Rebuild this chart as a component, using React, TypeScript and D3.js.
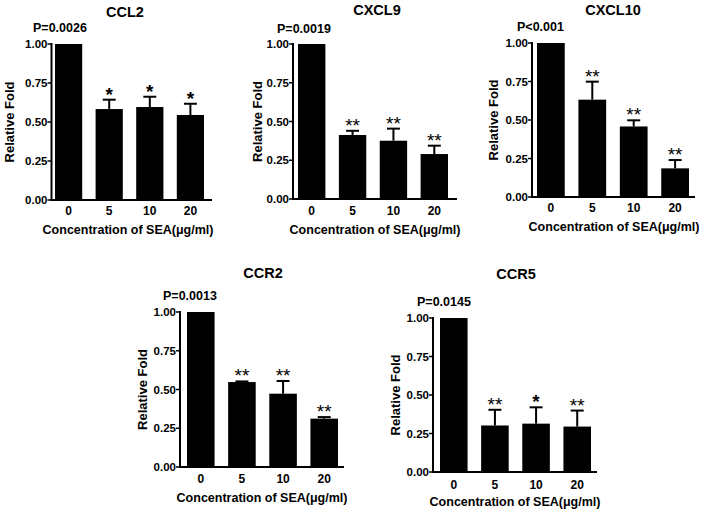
import React from "react";
import * as d3 from "d3";

// ---- data ----
const concentrations = ["0", "5", "10", "20"];
const yTicks = [0, 0.25, 0.5, 0.75, 1.0];
const genes = ["CCL2", "CXCL9", "CXCL10", "CCR2", "CCR5"];
const pValues = ["P=0.0026", "P=0.0019", "P<0.001", "P=0.0013", "P=0.0145"];

const ccl2Mean = [1.0, 0.583, 0.596, 0.545];
const ccl2Err = [0, 0.06, 0.066, 0.072];
const ccl2Sig = ["", "*", "*", "*"];

const cxcl9Mean = [1.0, 0.413, 0.376, 0.29];
const cxcl9Err = [0, 0.027, 0.078, 0.054];
const cxcl9Sig = ["", "**", "**", "**"];

const cxcl10Mean = [1.0, 0.632, 0.458, 0.186];
const cxcl10Err = [0, 0.117, 0.04, 0.054];
const cxcl10Sig = ["", "**", "**", "**"];

const ccr2Mean = [1.0, 0.548, 0.473, 0.312];
const ccr2Err = [0, 0.004, 0.082, 0.01];
const ccr2Sig = ["", "**", "**", "**"];

const ccr5Mean = [1.0, 0.302, 0.314, 0.295];
const ccr5Err = [0, 0.102, 0.106, 0.104];
const ccr5Sig = ["", "**", "*", "**"];

const means = [ccl2Mean, cxcl9Mean, cxcl10Mean, ccr2Mean, ccr5Mean];
const errs = [ccl2Err, cxcl9Err, cxcl10Err, ccr2Err, ccr5Err];
const sigs = [ccl2Sig, cxcl9Sig, cxcl10Sig, ccr2Sig, ccr5Sig];

const xAxisTitle = "Concentration of SEA(μg/ml)";
const yAxisTitle = "Relative Fold";

// ---- layout ----
type Layout = {
  x0: number; xEnd: number; yTop: number; yBot: number;
  b0: number; b1: number;
  tX: number; tY: number; pX: number; pY: number;
  ylX: number; xlX: number; xlY: number; tickY: number;
};
const layouts: Layout[] = [
  { x0: 51.5, xEnd: 212, yTop: 44, yBot: 200, b0: 55, b1: 204, tX: 125, tY: 12, pX: 33, pY: 28, ylX: 9, xlX: 128, xlY: 230, tickY: 211 },
  { x0: 293, xEnd: 457, yTop: 44, yBot: 199, b0: 298, b1: 448, tX: 377, tY: 10, pX: 277, pY: 29, ylX: 257, xlX: 375, xlY: 230, tickY: 211 },
  { x0: 532, xEnd: 695, yTop: 43, yBot: 197, b0: 537, b1: 689, tX: 613, tY: 10, pX: 517, pY: 27, ylX: 493, xlX: 614, xlY: 227, tickY: 208 },
  { x0: 180, xEnd: 344, yTop: 312, yBot: 467, b0: 187, b1: 338, tX: 263, tY: 273, pX: 163, pY: 296, ylX: 142, xlX: 262, xlY: 498, tickY: 479 },
  { x0: 433, xEnd: 597, yTop: 318, yBot: 472, b0: 440, b1: 591, tX: 516, tY: 274, pX: 417, pY: 302, ylX: 395, xlX: 515, xlY: 502, tickY: 485 },
];

const FONT = "Arial, 'Liberation Sans', Helvetica, sans-serif";

function Panel({ i }: { i: number }) {
  const L = layouts[i];
  const x = d3.scaleBand<string>().domain(concentrations).range([L.b0, L.b1]).paddingInner(0.33).paddingOuter(0);
  const y = d3.scaleLinear().domain([0, 1]).range([L.yBot, L.yTop]);
  const bw = x.bandwidth();
  const capHalf = 6.5;
  return (
    <g>
      <text x={L.tX} y={L.tY} dy="0.35em" textAnchor="middle" fontSize={14.5} fontWeight="bold">{genes[i]}</text>
      <text x={L.pX} y={L.pY} dy="0.35em" textAnchor="start" fontSize={12.5} fontWeight="bold">{pValues[i]}</text>
      {concentrations.map((c, k) => {
        const m = means[i][k];
        const e = errs[i][k];
        const cx = (x(c) as number) + bw / 2;
        return (
          <g key={c}>
            <rect x={x(c)} y={y(m)} width={bw} height={y(0) - y(m)} fill="#000" />
            {e > 0 && (
              <g stroke="#000" strokeWidth={2}>
                <line x1={cx} x2={cx} y1={y(m)} y2={y(m + e)} />
                <line x1={cx - capHalf} x2={cx + capHalf} y1={y(m + e)} y2={y(m + e)} />
              </g>
            )}
            {sigs[i][k] && (
              <text x={cx} y={y(m + e) + 1} textAnchor="middle" fontSize={19} fontWeight={sigs[i][k] === "*" ? "bold" : "normal"}>{sigs[i][k]}</text>
            )}
            <text x={cx} y={L.tickY} dy="0.35em" textAnchor="middle" fontSize={12} fontWeight="bold">{c}</text>
          </g>
        );
      })}
      <line x1={L.x0} x2={L.x0} y1={y(1) - 1} y2={y(0) + 1} stroke="#000" strokeWidth={2} />
      <line x1={L.x0 - 1} x2={L.xEnd} y1={y(0)} y2={y(0)} stroke="#000" strokeWidth={2} />
      {yTicks.map((t) => (
        <g key={t}>
          <line x1={L.x0 - 4} x2={L.x0} y1={y(t)} y2={y(t)} stroke="#000" strokeWidth={1.5} />
          <text x={L.x0 - 4} y={y(t)} dy="0.35em" textAnchor="end" fontSize={11.5} fontWeight="bold">{d3.format(".2f")(t)}</text>
        </g>
      ))}
      <text
        transform={`translate(${L.ylX},${(L.yTop + L.yBot) / 2}) rotate(-90)`}
        dy="0.35em" textAnchor="middle" fontSize={13} fontWeight="bold">{yAxisTitle}</text>
      <text x={L.xlX} y={L.xlY} dy="0.35em" textAnchor="middle" fontSize={12.5} fontWeight="bold">{xAxisTitle}</text>
    </g>
  );
}

export default function App() {
  return (
    <svg width={704} height={514} style={{ position: "absolute", left: 0, top: 0, background: "#fff" }} fontFamily={FONT}>
      <rect width={704} height={514} fill="#fff" />
      {genes.map((g, i) => <Panel key={g} i={i} />)}
    </svg>
  );
}
